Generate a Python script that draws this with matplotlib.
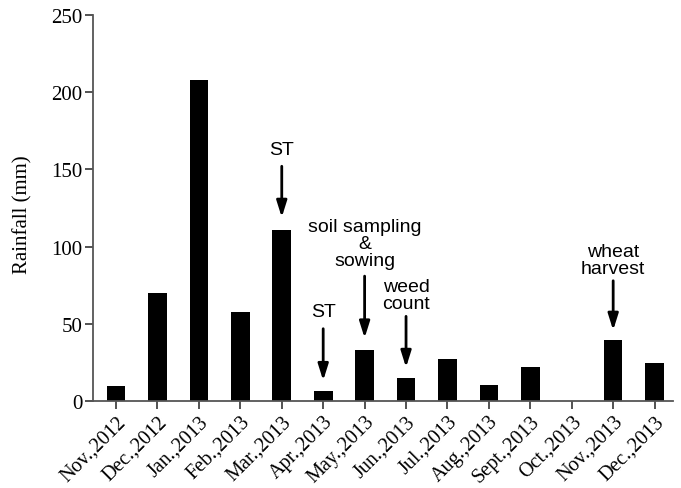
import matplotlib
matplotlib.use("Agg")
import matplotlib.pyplot as plt

# monthly rainfall (mm)
months = ["Nov.,2012", "Dec.,2012", "Jan.,2013", "Feb.,2013", "Mar.,2013",
          "Apr.,2013", "May.,2013", "Jun.,2013", "Jul.,2013", "Aug.,2013",
          "Sept.,2013", "Oct.,2013", "Nov.,2013", "Dec.,2013"]
rainfall = [10, 70, 208, 58, 111, 6.5, 33, 15, 27.5, 10.5, 22, 0, 40, 25]

# field events marked with arrows: bar index, label, text centre y, arrow start, arrow tip
event_idx = [4, 5, 6, 7, 12]
event_text = ["ST", "ST", "soil sampling\n&\nsowing", "weed\ncount", "wheat\nharvest"]
event_text_y = [163, 58, 102, 69, 91.5]
event_arrow_from = [152, 47, 81, 55, 78]
event_arrow_to = [119, 13.5, 41, 22, 46]

fig = plt.figure(figsize=(6.81, 4.89), dpi=100)
ax = fig.add_axes([0.1366, 0.177, 0.852, 0.791])

x = list(range(len(months)))
ax.bar(x, rainfall, width=0.45, color="black")

for i, txt, ty, y0, y1 in zip(event_idx, event_text, event_text_y,
                              event_arrow_from, event_arrow_to):
    ax.text(i, ty, txt, ha="center", va="center", fontsize=14,
            family="Liberation Sans", linespacing=1.02)
    ax.annotate("", xy=(i, y1), xytext=(i, y0),
                arrowprops=dict(arrowstyle="-|>,head_length=0.7,head_width=0.22",
                                color="black", lw=2, mutation_scale=14,
                                shrinkA=0, shrinkB=0))

ax.set_xlim(-0.556, 13.45)
ax.set_ylim(0, 250)
ax.set_yticks([0, 50, 100, 150, 200, 250])
ax.set_xticks(x)
ax.set_xticklabels(months, rotation=45, ha="right", rotation_mode="anchor",
                   family="Liberation Serif", fontsize=14.5)
for lab in ax.get_yticklabels():
    lab.set_family("Liberation Serif")
    lab.set_fontsize(15)
ax.set_ylabel("Rainfall (mm)", family="Liberation Serif", fontsize=15)
ax.yaxis.set_label_coords(-0.105, 0.485)

ax.spines["top"].set_visible(False)
ax.spines["right"].set_visible(False)
for s in ["left", "bottom"]:
    ax.spines[s].set_color("#555555")
    ax.spines[s].set_linewidth(1.3)
ax.tick_params(axis="both", direction="out", length=6, width=1.3, color="#444444", pad=1.5)

fig.savefig("out.png", dpi=100)
